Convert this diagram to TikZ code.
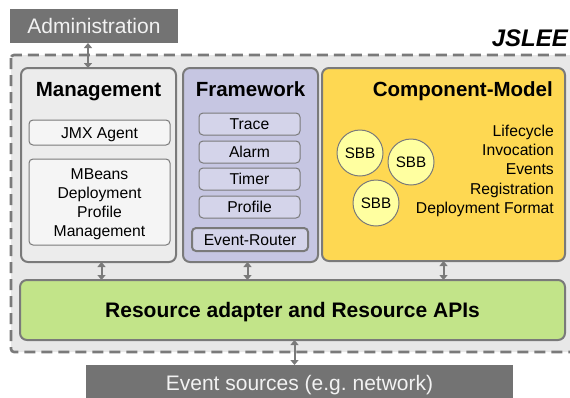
\documentclass[tikz,border=0pt]{standalone}
\usepackage{fontspec}
\setmainfont{Liberation Sans}
\usetikzlibrary{arrows.meta}
\definecolor{boxline}{RGB}{122,122,122}
\definecolor{darkbox}{RGB}{115,115,115}
\definecolor{sleebg}{RGB}{232,232,232}
\definecolor{mgmtbg}{RGB}{236,236,236}
\definecolor{itembg}{RGB}{245,245,245}
\definecolor{fwbg}{RGB}{198,198,226}
\definecolor{fwitembg}{RGB}{212,212,234}
\definecolor{cmbg}{RGB}{254,216,82}
\definecolor{sbbbg}{RGB}{255,255,160}
\definecolor{rabg}{RGB}{194,228,137}
\begin{document}
\begin{tikzpicture}[x=1pt,y=-1pt,
    panel/.style={draw=boxline,line width=2pt,rounded corners=7pt,anchor=north west,inner sep=0pt,outer sep=0pt},
    subbox/.style={draw=boxline,line width=1pt,rounded corners=4pt,anchor=north west,inner sep=0pt,outer sep=0pt,
        font=\fontsize{15.7}{19.2}\selectfont,text height=11.5pt,text depth=0pt},
    darkpanel/.style={fill=darkbox,text=white!95!black,anchor=north west,inner sep=0pt,outer sep=0pt,
        font=\fontsize{21}{25}\selectfont,text height=15pt,text depth=0pt},
    title/.style={anchor=base,inner sep=0pt,font=\fontsize{20.5}{24}\selectfont\bfseries},
    plain/.style={inner sep=0pt,font=\fontsize{15.7}{19.2}\selectfont},
    sbb/.style={circle,draw=boxline,line width=1pt,fill=sbbbg,minimum size=46pt,inner sep=0pt,font=\fontsize{15.2}{18}\selectfont},
    biarrow/.style={draw=boxline,line width=2pt,{Triangle[width=8pt,length=5pt]}-{Triangle[width=8pt,length=5pt]}}]
\useasboundingbox (0,0) rectangle (570,397);
\clip (0,0) rectangle (570,397);
% JSLEE container
\draw [boxline,fill=sleebg,line width=2.6pt,dash pattern=on 11pt off 6pt,rounded corners=3pt] (11,55) rectangle (590,352);
\node [anchor=base east,inner sep=0pt,font=\fontsize{24}{28}\selectfont\bfseries\itshape] (jslee) at (568,46) {JSLEE};
\node [darkpanel,minimum width=168pt,minimum height=34pt] (admin) at (10,9) {Administration};
\node [darkpanel,minimum width=427pt,minimum height=35pt] (events) at (86,365) {Event sources (e.g.\ network)};
% Management
\node [panel,fill=mgmtbg,minimum width=155pt,minimum height=194pt] (mgmt) at (21,68) {};
\node [title] (mgmt-title) at (98.5,96.5) {Management};
\node [subbox,fill=itembg,minimum width=141pt,minimum height=25pt] (jmx) at (29,120) {JMX Agent};
\node [subbox,fill=itembg,minimum width=141pt,minimum height=86pt] (mbeans) at (29,159) {};
\node [plain,anchor=north,align=center] (mbeans-text) at (99.5,168) {MBeans\\Deployment\\Profile\\Management};
% Framework
\node [panel,fill=fwbg,minimum width=135pt,minimum height=194pt] (fw) at (183,68) {};
\node [title] (fw-title) at (250.5,96.5) {Framework};
\foreach \name/\y in {Trace/113,Alarm/141,Timer/168,Profile/196}
    \node [subbox,fill=fwitembg,minimum width=101pt,minimum height=22pt] (fw-\name) at (199,\y) {\name};
\node [subbox,fill=fwitembg,line width=2pt,minimum width=116pt,minimum height=23pt] (router) at (192,228) {Event-Router};
% Component-Model
\node [panel,fill=cmbg,minimum width=243pt,minimum height=193pt] (cm) at (322,68) {};
\node [title,anchor=base east] (cm-title) at (553,96.5) {Component-Model};
\node [sbb] (sbb1) at (360,153) {SBB};
\node [sbb] (sbb2) at (411,162) {SBB};
\node [sbb] (sbb3) at (376,203) {SBB};
\node [plain,anchor=north east,align=right] (cm-text) at (554,125) {Lifecycle\\Invocation\\Events\\Registration\\Deployment Format};
% Resource adapter
\node [panel,fill=rabg,minimum width=545pt,minimum height=60pt,font=\fontsize{21}{25}\selectfont\bfseries,text height=15pt,text depth=0pt] (ra) at (20,280) {Resource adapter and Resource APIs};
% arrows
\draw [biarrow] ([xshift=-6pt]admin.south) -- ([xshift=-6pt]admin.south |- mgmt.north);
\draw [biarrow] ([xshift=3pt]mgmt.south) -- ([xshift=3pt]mgmt.south |- ra.north);
\draw [biarrow] ([xshift=-3pt]fw.south) -- ([xshift=-3pt]fw.south |- ra.north);
\draw [biarrow] (cm.south) -- (cm.south |- ra.north);
\draw [biarrow] ([xshift=2pt]ra.south) -- ([xshift=2pt]ra.south |- events.north);
\end{tikzpicture}
\end{document}
